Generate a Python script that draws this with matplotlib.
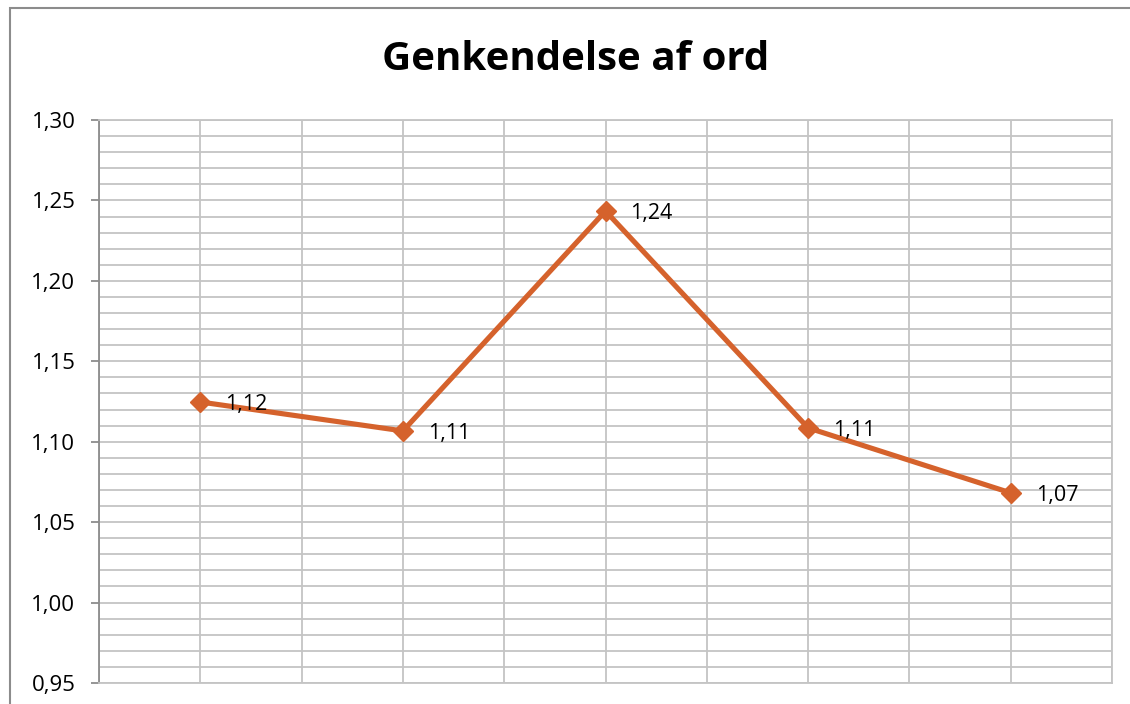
import matplotlib
matplotlib.use("Agg")
from matplotlib import pyplot as plt
from matplotlib.patches import Rectangle
from matplotlib.ticker import MultipleLocator, FuncFormatter

# data
categories = [1, 2, 3, 4, 5]
values = [1.1247, 1.1067, 1.2434, 1.1086, 1.0682]
labels = ["1,12", "1,11", "1,24", "1,11", "1,07"]
title = "Genkendelse af ord"

orange = "#D5622C"
grid_c = "#C4C4C4"

plt.rcParams['font.family'] = ['Open Sans', 'DejaVu Sans']

fig = plt.figure(figsize=(11.3, 7.04), dpi=100)
ax = fig.add_axes([99/1130, 1 - 683/704, (1112 - 99)/1130, (683 - 120)/704])

# chart area border (runs off the right and bottom edge)
fig.patches.append(Rectangle((10/1130, -0.05), 1.1, 1 - 8/704 + 0.05,
                             transform=fig.transFigure, fill=False,
                             edgecolor="#8C8C8C", linewidth=1.5))

ax.plot(categories, values, color=orange, linewidth=3.7, marker='D',
        markersize=10, zorder=3)
for x, y, t in zip(categories, values, labels):
    ax.annotate(t, (x, y), xytext=(18, -2), textcoords='offset points',
                va='center', ha='left', fontsize=15.5, color='black')

ax.set_xlim(0.5, 5.5)
ax.set_ylim(0.95, 1.30)
ax.yaxis.set_major_locator(MultipleLocator(0.05))
ax.yaxis.set_minor_locator(MultipleLocator(0.01))
ax.yaxis.set_major_formatter(FuncFormatter(lambda v, p: f"{v:.2f}".replace('.', ',')))
ax.xaxis.set_major_locator(MultipleLocator(1))
ax.xaxis.set_minor_locator(MultipleLocator(0.5))
ax.set_xticklabels([])

ax.grid(True, which='both', color=grid_c, linewidth=1.3)
ax.set_axisbelow(True)
ax.tick_params(axis='x', which='both', length=0)
ax.tick_params(axis='y', which='major', length=6, width=1.3, color='#8C8C8C',
               labelsize=16, pad=11)
ax.tick_params(axis='y', which='minor', length=0)
for s in ax.spines.values():
    s.set_color(grid_c)
    s.set_linewidth(1.3)
ax.spines['left'].set_color('#8C8C8C')

fig.text(576/1130, 1 - 60/704, title, ha='center', va='center',
         fontsize=29, fontweight='bold')

fig.savefig("out.png", dpi=100)
